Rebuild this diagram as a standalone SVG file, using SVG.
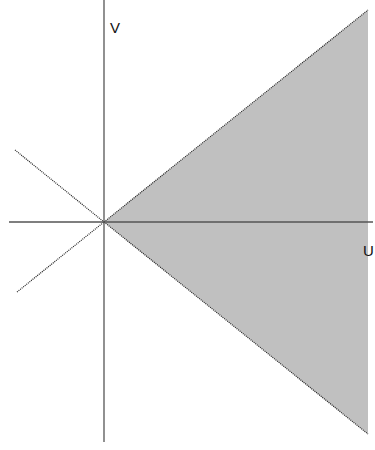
<svg xmlns="http://www.w3.org/2000/svg" width="375" height="450" viewBox="0 0 375 450">
<style>
.axis{stroke:#555;stroke-width:1.3;fill:none}
.dot{stroke:#222;stroke-width:1.2;stroke-dasharray:1 1;fill:none}
.lbl{font-family:"Liberation Sans",Arial,sans-serif;font-size:15px;fill:#111}
</style>
<rect width="375" height="450" fill="#fff"/>
<g id="cone">
<polygon points="104,222 368,10 368,434" fill="#c0c0c0"/>
</g>
<g id="connectors">
<line class="dot" x1="15" y1="150" x2="104" y2="222"/>
<line class="dot" x1="104" y1="222" x2="368" y2="10"/>
<line class="dot" x1="17" y1="292" x2="104" y2="222"/>
<line class="dot" x1="104" y1="222" x2="368" y2="434"/>
<line class="axis" x1="104" y1="0" x2="104" y2="442"/>
<line class="axis" x1="9" y1="222" x2="373" y2="222"/>
</g>
<g id="labels">
<text class="lbl" x="110" y="33">V</text>
<text class="lbl" x="363" y="256">U</text>
</g>
</svg>
